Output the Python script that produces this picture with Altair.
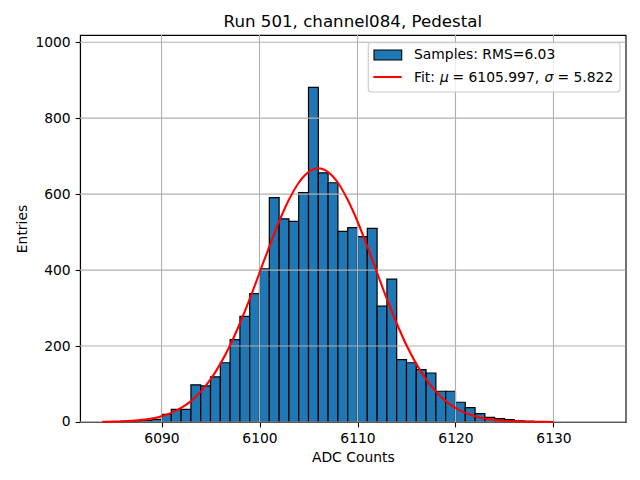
import altair as alt
import pandas as pd

# ---- data ----
bin_left = list(range(6084, 6130))
counts = [1, 1, 2, 2, 4, 7,
          20, 33, 33, 98, 95, 119, 156, 217, 278, 338,
          403, 591, 535, 528, 604, 881, 656, 630, 502, 512,
          488, 510, 305, 376, 164, 156, 138, 129, 81, 81,
          52, 38, 22, 12, 9, 6, 3, 2, 1, 1]
fit_x = list(range(6084, 6131))
fit_y = [0.5, 1.0, 1.8, 3.3, 5.6, 9.4, 15.3, 24, 37, 55, 80, 112, 153, 202,
         260, 324, 393, 462, 528, 585, 630, 658, 668, 658, 630, 585, 528,
         462, 393, 324, 260, 202, 153, 112, 80, 55, 37, 24, 15.3, 9.4, 5.6,
         3.3, 1.8, 1.0, 0.5, 0.3, 0.1]
x_ticks = [6090, 6100, 6110, 6120, 6130]
y_ticks = [0, 200, 400, 600, 800, 1000]

title_text = "Run 501, channel084, Pedestal"
x_title = "ADC Counts"
y_title = "Entries"
hist_label = "Samples: RMS=6.03"
fit_label_parts = ["Fit:", "\u03bc", "= 6105.997,", "\u03c3", "= 5.822"]

X_DOMAIN = [6081.68, 6137.36]
Y_DOMAIN = [0, 1019]

FONT = "DejaVu Sans"
FS = 13.89
W, H = 545.6, 387

hist_df = pd.DataFrame({"start": bin_left,
                        "end": [b + 1 for b in bin_left],
                        "count": counts})
fit_df = pd.DataFrame({"x": fit_x, "y": fit_y})
xg_df = pd.DataFrame({"v": x_ticks})
yg_df = pd.DataFrame({"v": y_ticks})
one = pd.DataFrame({"_": [0]})

xscale = alt.Scale(domain=X_DOMAIN, nice=False, zero=False)
yscale = alt.Scale(domain=Y_DOMAIN, nice=False, zero=False)

def xaxis():
    return alt.Axis(values=x_ticks, title=x_title, grid=False, format="d",
                    titlePadding=4.5)

def yaxis():
    return alt.Axis(values=y_ticks, title=y_title, grid=False, format="d",
                    titlePadding=5.6)

bars = alt.Chart(hist_df).mark_rect(
    fill="#1f77b4", stroke="black", strokeWidth=1.2
).encode(
    x=alt.X("start:Q", scale=xscale, axis=xaxis()),
    x2="end:Q",
    y=alt.Y("count:Q", scale=yscale, axis=yaxis()),
    y2=alt.datum(0),
)

xgrid = alt.Chart(xg_df).mark_rule(color="#b0b0b0", strokeWidth=1.1).encode(
    x=alt.X("v:Q", scale=xscale, axis=xaxis())
)
ygrid = alt.Chart(yg_df).mark_rule(color="#b0b0b0", strokeWidth=1.1).encode(
    y=alt.Y("v:Q", scale=yscale, axis=yaxis())
)

fit_line = alt.Chart(fit_df).mark_line(
    color="red", strokeWidth=2.08, interpolate="monotone"
).encode(
    x=alt.X("x:Q", scale=xscale, axis=xaxis()),
    y=alt.Y("y:Q", scale=yscale, axis=yaxis()),
)

# ---- legend box (upper right), positioned in pixels of the plot area ----
OX, OY = 80, 35
leg_box = alt.Chart(one).mark_rect(
    fill="white", fillOpacity=0.8, stroke="#cccccc", strokeWidth=1.1,
    cornerRadius=3
).encode(x=alt.value(368.3 - OX), x2=alt.value(620 - OX),
         y=alt.value(42.7 - OY), y2=alt.value(92 - OY))

leg_patch = alt.Chart(one).mark_rect(
    fill="#1f77b4", stroke="black", strokeWidth=1.1
).encode(x=alt.value(374 - OX), x2=alt.value(401.7 - OX),
         y=alt.value(50 - OY), y2=alt.value(60 - OY))

leg_line = alt.Chart(one).mark_rule(color="red", strokeWidth=2.08).encode(
    x=alt.value(373.3 - OX), x2=alt.value(401.7 - OX), y=alt.value(77 - OY)
)

def leg_text(txt, px, py, italic=False):
    return alt.Chart(one).mark_text(
        text=txt, align="left", baseline="alphabetic", font=FONT,
        fontSize=FS, color="black",
        fontStyle="italic" if italic else "normal"
    ).encode(x=alt.value(px - OX), y=alt.value(py - OY))

texts = [leg_text(hist_label, 414, 59.3)]
fit_x_pos = [414, 440.0, 452.5, 544.5, 557.5]
for part, px, it in zip(fit_label_parts, fit_x_pos,
                        [False, True, False, True, False]):
    texts.append(leg_text(part, px, 82.3, it))

chart = alt.layer(
    bars, xgrid, ygrid, fit_line, leg_box, leg_patch, leg_line, *texts
).properties(
    width=W, height=H,
    title=alt.TitleParams(title_text, font=FONT, fontSize=16.67,
                          fontWeight="normal", color="black",
                          anchor="middle", baseline="alphabetic", offset=4,
                          dy=13),
    autosize=alt.AutoSizeParams(type="none"),
    padding={"left": 72, "top": 27, "right": 6, "bottom": 50},
    background="white",
).configure_axis(
    domainColor="black", domainWidth=1.1,
    tickColor="black", tickWidth=1.1, tickSize=4.9,
    labelFont=FONT, labelFontSize=FS, labelColor="black",
    labelPadding=4.9, labelFlush=False, labelOverlap=False,
    titleFont=FONT, titleFontSize=FS, titleFontWeight="normal",
    titleColor="black",
).configure_view(
    stroke="black", strokeWidth=1.1
)

chart.save("out.html", embed_options={"renderer": "svg", "actions": False})
